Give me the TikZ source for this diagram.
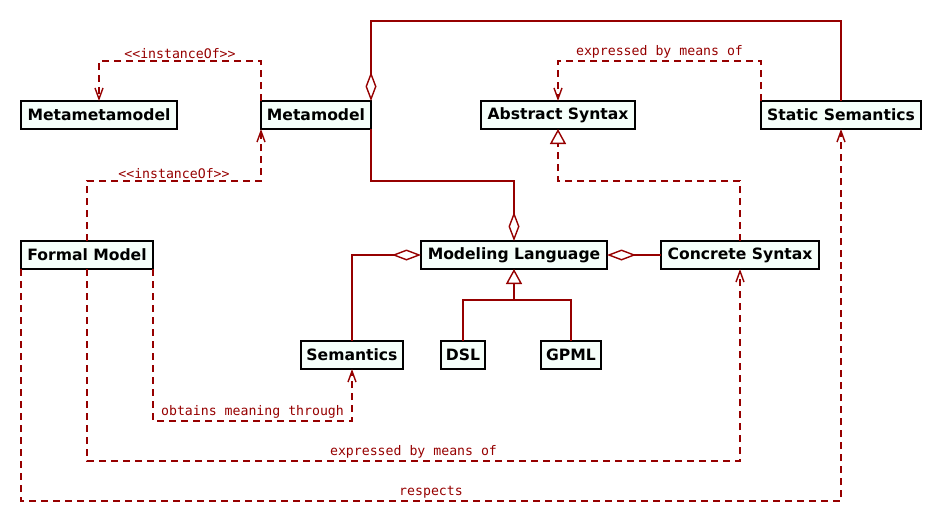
\documentclass[tikz,border=0pt]{standalone}
\usepackage{fontspec}
\usepackage{tikz}
\usetikzlibrary{positioning,arrows.meta}
\setsansfont{DejaVu Sans}
\newfontfamily\lblfont{DejaVu Sans Mono}
\definecolor{umlred}{RGB}{150,0,0}
\definecolor{umlfill}{RGB}{245,255,250}

\begin{document}
\begin{tikzpicture}[x=1pt, y=-1pt,
	cls/.style= {draw=black, line width=2pt, fill=umlfill, font=\sffamily\bfseries\fontsize{15.6}{18}\selectfont, minimum height=28pt, inner xsep=2pt, outer sep=0pt},
	lbl/.style= {font=\lblfont\fontsize{13.2}{15}\selectfont, text=umlred, above, inner sep=1.5pt},
	rel/.style= {draw=umlred, line width=2pt},
	dep/.style= {rel, dash pattern=on 7pt off 5pt, -{Straight Barb[length=11pt,width=8pt,line width=1.4pt]}},
	real/.style= {rel, dash pattern=on 7pt off 5pt, -{Triangle[open,length=15pt,width=16pt,line width=1.4pt]}},
	gen/.style= {rel, -{Triangle[open,length=15pt,width=16pt,line width=1.4pt]}},
	agg/.style= {rel, {Diamond[open,length=29pt,width=11pt,line width=1.4pt]}-}]
		\useasboundingbox (0,0) rectangle (942,522);

		\node[cls, minimum width=156pt] (mmm) at (99,115) {Metametamodel};
		\node[cls, minimum width=110pt] (mm) at (316,115) {Metamodel};
		\node[cls, minimum width=154pt] (as) at (558,115) {Abstract Syntax};
		\node[cls, minimum width=160pt] (ss) at (841,115) {Static Semantics};
		\node[cls, minimum width=132pt] (fm) at (87,255) {Formal Model};
		\node[cls, minimum width=186pt] (ml) at (514,255) {Modeling Language};
		\node[cls, minimum width=158pt] (cs) at (740,255) {Concrete Syntax};
		\node[cls, minimum width=102pt] (sem) at (352,355) {Semantics};
		\node[cls, minimum width=44pt] (dsl) at (463,355) {DSL};
		\node[cls, minimum width=60pt] (gpml) at (571,355) {GPML};

		\draw[dep] (mm.north west) -- (mm.north west |- 0,61) -- node[lbl] (l1) {<<instanceOf>>} (mmm.north |- 0,61) -- (mmm.north);
		\draw[dep] (fm.north) -- (fm.north |- 0,181) -- node[lbl] (l2) {<<instanceOf>>} (mm.south west |- 0,181) -- (mm.south west);
		\draw[dep] (ss.north west) -- (ss.north west |- 0,61) -- node[lbl] (l3) {expressed by means of} (as.north |- 0,61) -- (as.north);
		\draw[dep] (fm.south east) -- (fm.south east |- 0,421) -- node[lbl] (l4) {obtains meaning through} (sem.south |- 0,421) -- (sem.south);
		\draw[dep] (fm.south) -- (fm.south |- 0,461) -- node[lbl] (l5) {expressed by means of} (cs.south |- 0,461) -- (cs.south);
		\draw[dep] (fm.south west) -- (fm.south west |- 0,501) -- node[lbl] (l6) {respects} (ss.south |- 0,501) -- (ss.south);

		\draw[agg] (mm.north east) -- (mm.north east |- 0,21) -| (ss.north);
		\draw[agg] (ml.north) -- (ml.north |- 0,181) -| (mm.south east);
		\draw[agg] (ml.west) -| (sem.north);
		\draw[agg] (ml.east) -- (cs.west);
		\draw[real] (cs.north) -- (cs.north |- 0,181) -| (as.south);

		\draw[gen] (dsl.north) |- (ml.south |- 0,300) -- (ml.south);
		\draw[rel] (gpml.north) |- (ml.south |- 0,300);
\end{tikzpicture}
\end{document}
